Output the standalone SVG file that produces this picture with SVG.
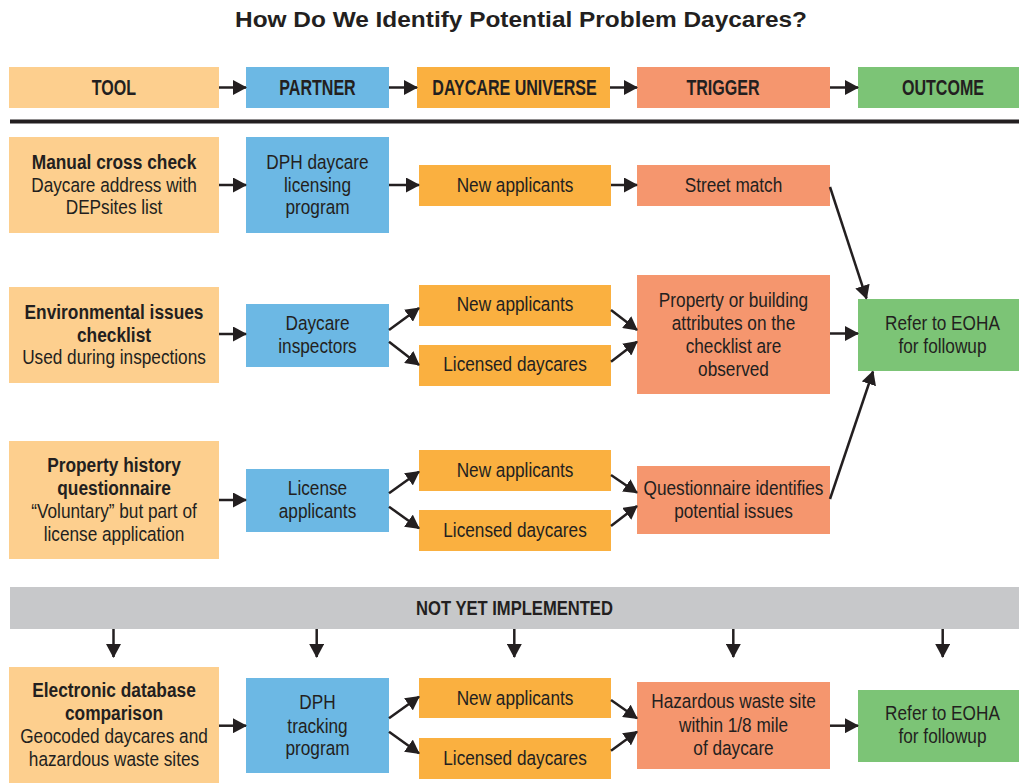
<svg xmlns="http://www.w3.org/2000/svg" width="1019" height="783" viewBox="0 0 1019 783">
<style>
text{font-family:"Liberation Sans",Arial,sans-serif;fill:#231f20;text-anchor:middle}
.t{font-size:22px;font-weight:bold}
.h{font-size:22px;font-weight:bold}
.b{font-size:20.5px;font-weight:bold}
.r{font-size:20.5px}
.tool{fill:#fdcf8e}.partner{fill:#6cb8e4}.univ{fill:#fab040}.trig{fill:#f5966e}.out{fill:#7cc476}.grey{fill:#c7c8ca}
#connectors line{stroke:#231f20;stroke-width:2.5;marker-end:url(#ah)}
</style>
<defs>
<marker id="ah" markerUnits="userSpaceOnUse" markerWidth="14" markerHeight="15" refX="13" refY="7.5" orient="auto">
<path d="M0,0 L14,7.5 L0,15 Z" fill="#231f20"/>
</marker>
</defs>
<rect width="1019" height="783" fill="#fff"/>
<text class="t" x="521" y="27" textLength="572" lengthAdjust="spacingAndGlyphs">How Do We Identify Potential Problem Daycares?</text>

<g id="header-tool"><rect class="tool" x="9" y="67" width="210" height="41"/><text class="h" transform="translate(114 0) scale(.73 1)" x="0" y="95">TOOL</text></g>
<g id="header-partner"><rect class="partner" x="246" y="67" width="143" height="41"/><text class="h" transform="translate(317.5 0) scale(.73 1)" x="0" y="95">PARTNER</text></g>
<g id="header-universe"><rect class="univ" x="417" y="67" width="193" height="41"/><text class="h" transform="translate(514.5 0) scale(.73 1)" x="0" y="95">DAYCARE UNIVERSE</text></g>
<g id="header-trigger"><rect class="trig" x="637" y="67" width="193" height="41"/><text class="h" transform="translate(723 0) scale(.73 1)" x="0" y="95">TRIGGER</text></g>
<g id="header-outcome"><rect class="out" x="858" y="67" width="161" height="41"/><text class="h" transform="translate(943 0) scale(.73 1)" x="0" y="95">OUTCOME</text></g>
<rect id="rule" x="10" y="119.5" width="1009" height="4" fill="#231f20"/>

<g id="tool1"><rect class="tool" x="9" y="137" width="210" height="96"/>
<text class="b" transform="translate(114 0) scale(.845 1)"><tspan x="0" y="169">Manual cross check</tspan></text>
<text class="r" transform="translate(114 0) scale(.84 1)"><tspan x="0" y="191.7">Daycare address with</tspan><tspan x="0" y="214.3">DEPsites list</tspan></text></g>
<g id="partner1"><rect class="partner" x="246" y="137" width="143" height="96"/>
<text class="r" transform="translate(317.5 0) scale(.84 1)"><tspan x="0" y="169">DPH daycare</tspan><tspan x="0" y="191.7">licensing</tspan><tspan x="0" y="214.3">program</tspan></text></g>
<g id="univ1"><rect class="univ" x="419" y="165" width="192" height="41"/>
<text class="r" transform="translate(515 0) scale(.84 1)"><tspan x="0" y="191.7">New applicants</tspan></text></g>
<g id="trig1"><rect class="trig" x="637" y="165" width="193" height="41"/>
<text class="r" transform="translate(733.5 0) scale(.84 1)"><tspan x="0" y="191.7">Street match</tspan></text></g>
<g id="out1"><rect class="out" x="858" y="299" width="161" height="72"/>
<text class="r" transform="translate(942.5 0) scale(.84 1)"><tspan x="0" y="330">Refer to EOHA</tspan><tspan x="0" y="353.3">for followup</tspan></text></g>

<g id="tool2"><rect class="tool" x="9" y="287" width="210" height="96"/>
<text class="b" transform="translate(114 0) scale(.845 1)"><tspan x="0" y="319.3">Environmental issues</tspan><tspan x="0" y="341.7">checklist</tspan></text>
<text class="r" transform="translate(114 0) scale(.84 1)"><tspan x="0" y="364.3">Used during inspections</tspan></text></g>
<g id="partner2"><rect class="partner" x="246" y="304" width="143" height="63"/>
<text class="r" transform="translate(317.5 0) scale(.84 1)"><tspan x="0" y="330">Daycare</tspan><tspan x="0" y="353.3">inspectors</tspan></text></g>
<g id="univ2a"><rect class="univ" x="419" y="285" width="192" height="41"/>
<text class="r" transform="translate(515 0) scale(.84 1)"><tspan x="0" y="311">New applicants</tspan></text></g>
<g id="univ2b"><rect class="univ" x="419" y="345" width="192" height="41"/>
<text class="r" transform="translate(515 0) scale(.84 1)"><tspan x="0" y="371">Licensed daycares</tspan></text></g>
<g id="trig2"><rect class="trig" x="637" y="275" width="193" height="119"/>
<text class="r" transform="translate(733.5 0) scale(.84 1)"><tspan x="0" y="306.7">Property or building</tspan><tspan x="0" y="330">attributes on the</tspan><tspan x="0" y="353.3">checklist are</tspan><tspan x="0" y="376">observed</tspan></text></g>

<g id="tool3"><rect class="tool" x="9" y="441" width="210" height="118"/>
<text class="b" transform="translate(114 0) scale(.845 1)"><tspan x="0" y="472">Property history</tspan><tspan x="0" y="495">questionnaire</tspan></text>
<text class="r" transform="translate(114 0) scale(.84 1)"><tspan x="0" y="518.3">“Voluntary” but part of</tspan><tspan x="0" y="541">license application</tspan></text></g>
<g id="partner3"><rect class="partner" x="246" y="469" width="143" height="63"/>
<text class="r" transform="translate(317.5 0) scale(.84 1)"><tspan x="0" y="495.3">License</tspan><tspan x="0" y="518.5">applicants</tspan></text></g>
<g id="univ3a"><rect class="univ" x="419" y="450" width="192" height="41"/>
<text class="r" transform="translate(515 0) scale(.84 1)"><tspan x="0" y="477">New applicants</tspan></text></g>
<g id="univ3b"><rect class="univ" x="419" y="510" width="192" height="41"/>
<text class="r" transform="translate(515 0) scale(.84 1)"><tspan x="0" y="537">Licensed daycares</tspan></text></g>
<g id="trig3"><rect class="trig" x="637" y="466" width="193" height="68"/>
<text class="r" transform="translate(733.5 0) scale(.84 1)"><tspan x="0" y="495">Questionnaire identifies</tspan><tspan x="0" y="518.3">potential issues</tspan></text></g>

<g id="not-yet"><rect class="grey" x="10" y="587" width="1009" height="42"/>
<text class="h" transform="translate(514.5 0) scale(.79 1)" x="0" y="615" style="font-size:21px">NOT YET IMPLEMENTED</text></g>

<g id="tool4"><rect class="tool" x="9" y="667" width="210" height="116"/>
<text class="b" transform="translate(114 0) scale(.845 1)"><tspan x="0" y="696.7">Electronic database</tspan><tspan x="0" y="720">comparison</tspan></text>
<text class="r" transform="translate(114 0) scale(.84 1)"><tspan x="0" y="743.3">Geocoded daycares and</tspan><tspan x="0" y="765.7">hazardous waste sites</tspan></text></g>
<g id="partner4"><rect class="partner" x="246" y="678" width="143" height="95"/>
<text class="r" transform="translate(317.5 0) scale(.84 1)"><tspan x="0" y="709.3">DPH</tspan><tspan x="0" y="732.7">tracking</tspan><tspan x="0" y="755">program</tspan></text></g>
<g id="univ4a"><rect class="univ" x="419" y="678" width="192" height="40"/>
<text class="r" transform="translate(515 0) scale(.84 1)"><tspan x="0" y="705">New applicants</tspan></text></g>
<g id="univ4b"><rect class="univ" x="419" y="738" width="192" height="41"/>
<text class="r" transform="translate(515 0) scale(.84 1)"><tspan x="0" y="765">Licensed daycares</tspan></text></g>
<g id="trig4"><rect class="trig" x="637" y="682" width="193" height="87"/>
<text class="r" transform="translate(733.5 0) scale(.84 1)"><tspan x="0" y="708.3">Hazardous waste site</tspan><tspan x="0" y="731.7">within 1/8 mile</tspan><tspan x="0" y="755">of daycare</tspan></text></g>
<g id="out4"><rect class="out" x="858" y="690" width="161" height="72"/>
<text class="r" transform="translate(942.5 0) scale(.84 1)"><tspan x="0" y="720">Refer to EOHA</tspan><tspan x="0" y="743.3">for followup</tspan></text></g>

<g id="connectors">
<line x1="219" y1="87.5" x2="246" y2="87.5"/>
<line x1="389" y1="87.5" x2="417" y2="87.5"/>
<line x1="610" y1="87.5" x2="637" y2="87.5"/>
<line x1="830" y1="87.5" x2="858" y2="87.5"/>

<line x1="219" y1="185" x2="246" y2="185"/>
<line x1="389" y1="185" x2="419" y2="185"/>
<line x1="611" y1="185" x2="637" y2="185"/>
<line x1="830" y1="187" x2="866.5" y2="298.5"/>

<line x1="219" y1="334" x2="246" y2="334"/>
<line x1="389" y1="330" x2="419" y2="308"/>
<line x1="389" y1="341.7" x2="419" y2="365"/>
<line x1="611" y1="310" x2="637" y2="330"/>
<line x1="611" y1="361.7" x2="637" y2="341.7"/>
<line x1="830" y1="333.5" x2="858" y2="333.5"/>

<line x1="219" y1="500" x2="246" y2="500"/>
<line x1="389" y1="493.3" x2="419" y2="471.7"/>
<line x1="389" y1="506.7" x2="419" y2="528.3"/>
<line x1="611" y1="475" x2="637" y2="492.7"/>
<line x1="611" y1="526" x2="637" y2="506"/>
<line x1="830" y1="499" x2="873" y2="371.5"/>

<line x1="113.5" y1="629" x2="113.5" y2="657"/>
<line x1="316.7" y1="629" x2="316.7" y2="657"/>
<line x1="514.3" y1="629" x2="514.3" y2="657"/>
<line x1="733.3" y1="629" x2="733.3" y2="657"/>
<line x1="942.7" y1="629" x2="942.7" y2="657"/>

<line x1="219" y1="725.7" x2="246" y2="725.7"/>
<line x1="389" y1="718.3" x2="419" y2="696.7"/>
<line x1="389" y1="731.7" x2="419" y2="753.3"/>
<line x1="611" y1="700" x2="637" y2="718.3"/>
<line x1="611" y1="750.7" x2="637" y2="731.7"/>
<line x1="830" y1="725.7" x2="858" y2="725.7"/>
</g>
</svg>
